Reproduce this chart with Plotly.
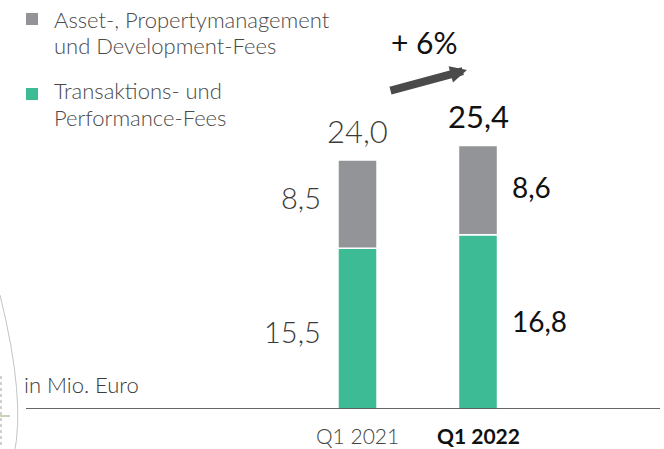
import re
import plotly.graph_objects as go

categories = ["Q1 2021", "Q1 2022"]
transaktion = [15.5, 16.8]
asset = [8.5, 8.6]
totals = [24.0, 25.4]
tick_labels = ["Q1 2021", "Q1 2022"]
growth_label = "+ 6%"
legend_asset = ["Asset-, Propertymanagement", "und Development-Fees"]
legend_trans = ["Transaktions- und", "Performance-Fees"]
unit_label = "in Mio. Euro"

GREEN = "#3dbb94"
GRAY = "#939497"
FONT = "Lato"
W, H = 664, 449
L, R, T, B = 20, 4, 0, 40
PH = H - T - B  # plot height in px
PW = W - L - R
PX_PER_UNIT = 10.375


def fmt(v):
    return f"{v:.1f}".replace(".", ",")


def px(xp):
    return (xp - L) / PW


def py(yp):
    return (H - B - yp) / PH


x = [0, 1]
fig = go.Figure()
fig.add_trace(go.Bar(x=x, y=transaktion, marker=dict(color=GREEN, line=dict(color="white", width=1.5)),
                     width=0.324, hoverinfo="skip"))
fig.add_trace(go.Bar(x=x, y=asset, base=transaktion, marker=dict(color=GRAY, line=dict(color="white", width=1.5)),
                     width=0.324, hoverinfo="skip"))

ann = []
styles = [dict(color="#3a3a3a", weight=300), dict(color="#111111", weight=400)]
for i in range(2):
    st = styles[i]
    side = dict(xanchor="right", xshift=-35) if i == 0 else dict(xanchor="left", xshift=32)
    ann.append(dict(x=x[i], y=transaktion[i] / 2, text=fmt(transaktion[i]), showarrow=False,
                    yanchor="middle", yshift=-3 if i == 0 else 1,
                    font=dict(family=FONT, size=29 if i == 0 else 28, color=st["color"], weight=st["weight"]), **side))
    ann.append(dict(x=x[i], y=transaktion[i] + asset[i] / 2, text=fmt(asset[i]), showarrow=False,
                    yanchor="middle", yshift=7 if i == 0 else 3,
                    font=dict(family=FONT, size=29 if i == 0 else 28, color=st["color"], weight=st["weight"]), **side))
    ann.append(dict(x=x[i], y=totals[i], text=fmt(totals[i]), showarrow=False, yanchor="middle", yshift=29,
                    font=dict(family=FONT, size=31 if i == 0 else 31, color=st["color"], weight=st["weight"])))
    ann.append(dict(x=x[i], y=0, text=tick_labels[i], showarrow=False, yanchor="middle", yshift=-26,
                    font=dict(family=FONT, size=21, color="#444444" if i == 0 else "#111111",
                              weight=st["weight"] if i == 0 else 700)))

# growth arrow
ann.append(dict(x=px(467), y=py(70), xref="paper", yref="paper",
                ax=-78, ay=21, showarrow=True, arrowhead=2, arrowsize=0.42, arrowwidth=8,
                arrowcolor="#4a4a4a", text=""))
ann.append(dict(x=px(424), y=py(42), xref="paper", yref="paper", text=growth_label,
                showarrow=False, xanchor="center", yanchor="middle",
                font=dict(family=FONT, size=30, color="#111111")))

# legend
for lines, ys in ((legend_asset, (19, 46)), (legend_trans, (91, 117))):
    for txt, yy in zip(lines, ys):
        ann.append(dict(x=px(52), y=py(yy), xref="paper", yref="paper", text=txt, showarrow=False,
                        xanchor="left", yanchor="middle",
                        font=dict(family=FONT, size=22, color="#4a4a4a", weight=300)))
ann.append(dict(x=px(22), y=py(384), xref="paper", yref="paper", text=unit_label,
                showarrow=False, xanchor="left", yanchor="middle",
                font=dict(family=FONT, size=22, color="#3a3a3a", weight=300)))

shapes = [
    dict(type="rect", xref="paper", yref="paper", x0=px(26), x1=px(38),
         y0=py(25), y1=py(13), fillcolor=GRAY, line=dict(width=0)),
    dict(type="rect", xref="paper", yref="paper", x0=px(26), x1=px(38),
         y0=py(100), y1=py(88), fillcolor=GREEN, line=dict(width=0)),
    # decorative arc at the left edge
    dict(type="path", xref="paper", yref="paper",
         path=f"M {px(0)} {py(295)} Q {px(26)} {py(400)} {px(14)} {py(455)}",
         line=dict(color="#c4c4c4", width=1)),
    dict(type="line", xref="paper", yref="paper", x0=px(0), x1=px(10), y0=py(416), y1=py(416),
         line=dict(color="#b5c9a0", width=1.5)),
    dict(type="line", xref="paper", yref="paper", x0=px(1), x1=px(1), y0=py(376), y1=py(445),
         line=dict(color="#d0d0d0", width=2, dash="dot")),
    # baseline
    dict(type="line", xref="paper", yref="y", x0=px(26), x1=1, y0=0, y1=0,
         line=dict(color="#333333", width=1.5)),
]

fig.update_layout(
    width=W, height=H, barmode="overlay", showlegend=False,
    margin=dict(l=L, r=R, t=T, b=B),
    paper_bgcolor="white", plot_bgcolor="white",
    xaxis=dict(range=[-(357.5 - L) / 120.5, (W - R - 357.5) / 120.5], showticklabels=False,
               showgrid=False, zeroline=False, showline=False, fixedrange=True),
    yaxis=dict(range=[0, PH / PX_PER_UNIT], visible=False, fixedrange=True),
    annotations=ann, shapes=shapes,
)
fig.write_html("out.html", config={"displayModeBar": False})

with open("out.html", encoding="utf-8") as f:
    html = f.read()
html = re.sub(r"<head>", "<head><style>html,body{margin:0;padding:0;overflow:hidden}</style>", html, count=1)
with open("out.html", "w", encoding="utf-8") as f:
    f.write(html)
